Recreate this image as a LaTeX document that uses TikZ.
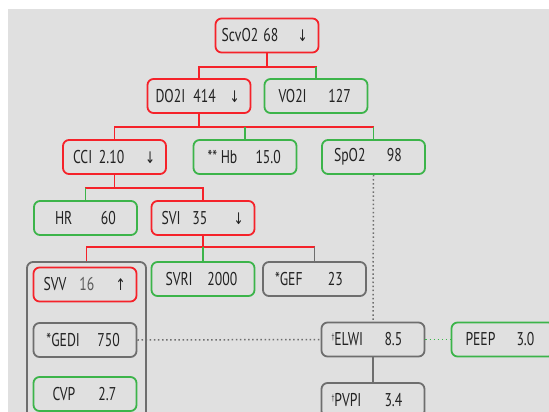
\documentclass[tikz,border=0pt]{standalone}
\usepackage{fontspec}
\newfontfamily\cellfont[FakeStretch=0.74]{PT Sans}
\newfontfamily\markfont[FakeStretch=0.75]{DejaVu Sans}
% one cell: label offset, label, value offset, value, trend mark
\newcommand{\cell}[5]{\makebox[103pt][l]{\rlap{\hspace*{#1pt}#2}\rlap{\hspace*{#3pt}#4}\rlap{\hspace*{82pt}#5}}}
\newcommand{\arrDown}{{\markfont\fontsize{16}{16}\selectfont ↓}}
\newcommand{\arrUp}{{\markfont\fontsize{16}{16}\selectfont ↑}}
\newcommand{\dg}{\raisebox{6pt}{\fontsize{8}{8}\selectfont\textdagger}}
\begin{document}
\begin{tikzpicture}[x=1pt, y=-1pt,
  cellbox/.style={draw, rounded corners=6pt, line width=1.8pt, fill=panelGray,
    minimum width=103pt, minimum height=34pt, inner sep=0pt, text=inkGray,
    font=\cellfont\fontsize{18.5}{20}\selectfont},
  lowbox/.style={cellbox, draw=alarmRed},
  okbox/.style={cellbox, draw=normalGreen},
  infobox/.style={cellbox, draw=frameGray},
  groupbox/.style={draw=frameGray, rounded corners=6pt, line width=1.8pt, fill=panelGray,
    minimum width=119pt, minimum height=168pt, inner sep=0pt},
  redlink/.style={draw=alarmRed, line width=1.5pt},
  greenlink/.style={draw=normalGreen, line width=1.5pt},
  graylink/.style={draw=frameGray, line width=1.5pt},
  dotlink/.style={draw=frameGray, line width=1.5pt, dash pattern=on 1.5pt off 2.6pt},
  greendot/.style={draw=normalGreen, line width=1.5pt, dash pattern=on 1.5pt off 2.6pt}]

\definecolor{panelGray}{HTML}{E0E0E0}
\definecolor{alarmRed}{HTML}{F5222A}
\definecolor{normalGreen}{HTML}{3CB44A}
\definecolor{frameGray}{HTML}{6E6E6E}
\definecolor{inkGray}{HTML}{222222}
\definecolor{softGray}{HTML}{5A5A5A}

\useasboundingbox (0,0) rectangle (549,412);
\clip (0,0) rectangle (549,412);
\fill[white] (0,0) rectangle (549,412);
\fill[panelGray] (8,9) rectangle (549,412);

% Oxygen balance
\node[lowbox] (scvo) at (267,35.5) {\cell{6}{ScvO2}{48}{68}{\arrDown}};
\node[lowbox] (doi) at (199,96) {\cell{8}{DO2I}{46}{414}{\arrDown}};
\node[okbox] (voi) at (316,96) {\cell{14}{VO2I}{64}{127}{}};

% Delivery
\node[lowbox] (cci) at (114.5,157) {\cell{10}{CCI}{36}{2.10}{\arrDown}};
\node[okbox] (hb) at (245,157) {\cell{14}{** Hb}{62}{15.0}{}};
\node[okbox] (spo) at (373.5,157) {\cell{12}{SpO2}{65}{98}{}};

% Flow
\node[okbox] (hr) at (85.5,218) {\cell{21}{HR}{67}{60}{}};
\node[lowbox] (svi) at (203,218) {\cell{10}{SVI}{41}{35}{\arrDown}};

% Preload group
\node[groupbox] (grp) at (86.5,346) {};
\node[lowbox] (svv) at (85,284.5) {\cell{10}{SVV}{46}{\textcolor{softGray}{16}}{\arrUp}};
\node[infobox] (gedi) at (85,340) {\cell{13}{*GEDI}{64}{750}{}};
\node[okbox] (cvp) at (85,394) {\cell{19}{CVP}{65}{2.7}{}};

% Afterload and contractility
\node[okbox] (svri) at (203,279) {\cell{14}{SVRI}{56}{2000}{}};
\node[infobox] (gef) at (314.5,279) {\cell{12}{*GEF}{65}{23}{}};

% Lung water
\node[infobox] (elwi) at (373,339.5) {\cell{10}{\dg ELWI}{63}{8.5}{}};
\node[okbox] (peep) at (503,339.5) {\cell{14}{PEEP}{65}{3.0}{}};
\node[infobox] (pvpi) at (373,400) {\cell{10}{\dg PVPI}{63}{3.4}{}};

% Tree links
\coordinate (j1) at (267,67);
\coordinate (j2) at (199,127);
\coordinate (j3) at (114.5,188);
\coordinate (j4) at (203,247);
\draw[redlink] (scvo.south) -- (j1);
\draw[redlink] (doi.north) |- (j1) -| (voi.north);
\draw[greenlink] (voi.north) -- (voi.north |- j1);
\draw[redlink] (doi.south) -- (j2);
\draw[redlink] (cci.north) |- (j2) -| (spo.north);
\draw[greenlink] (hb.north) -- (hb.north |- j2);
\draw[greenlink] (spo.north) -- (spo.north |- j2);
\draw[redlink] (cci.south) -- (j3);
\draw[redlink] (hr.north) |- (j3) -| (svi.north);
\draw[greenlink] (hr.north) -- (hr.north |- j3);
\draw[redlink] (svi.south) -- (j4);
\draw[redlink] (grp.north) |- (j4) -| (gef.north);
\draw[greenlink] (svri.north) -- (svri.north |- j4);
\draw[graylink] (gef.north) -- (gef.north |- j4);

% Dotted cross links
\draw[dotlink] (spo.south) -- (elwi.north);
\draw[dotlink] (gedi.east) -- (elwi.west);
\draw[greendot] (elwi.east) -- (peep.west);
\draw[graylink] (elwi.south) -- (pvpi.north);

\end{tikzpicture}
\end{document}
